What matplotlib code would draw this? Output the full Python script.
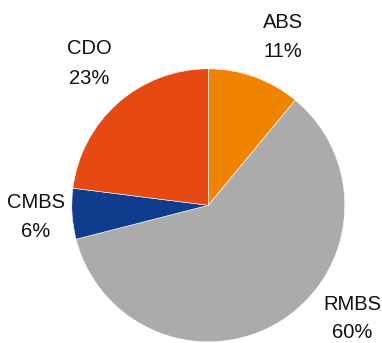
import matplotlib
matplotlib.use("Agg")
import matplotlib.pyplot as plt

categories = ["ABS", "RMBS", "CMBS", "CDO"]
values = [11, 60, 6, 23]
colors = ["#F08300", "#ABABAB", "#0F3C8C", "#E64A12"]
# label positions (pixel coords, origin top-left): name line / percent line
label_pos = {"ABS": (283, 22.5, 51.5), "RMBS": (352, 305, 333),
             "CMBS": (36, 203, 231.5), "CDO": (89, 48, 78)}

W, H = 382, 343
fig = plt.figure(figsize=(W / 100, H / 100), dpi=100)
ax = fig.add_axes([0, 0, 1, 1])
ax.set_xlim(0, W)
ax.set_ylim(0, H)
ax.set_aspect("equal")
ax.axis("off")

ax.pie(values, colors=colors, startangle=90, counterclock=False,
       center=(208.3, H - 205.3), radius=136.5, frame=True,
       wedgeprops=dict(edgecolor="white", linewidth=0.4))
ax.set_xlim(0, W)
ax.set_ylim(0, H)
ax.axis("off")

font = dict(family=["Liberation Sans", "DejaVu Sans"], size=14.5, color="#111111",
            ha="center", va="center")
for cat, val in zip(categories, values):
    x, y1, y2 = label_pos[cat]
    ax.text(x, H - y1, cat, **font)
    ax.text(x, H - y2, f"{val}%", **font)

fig.savefig("out.png", dpi=100)
